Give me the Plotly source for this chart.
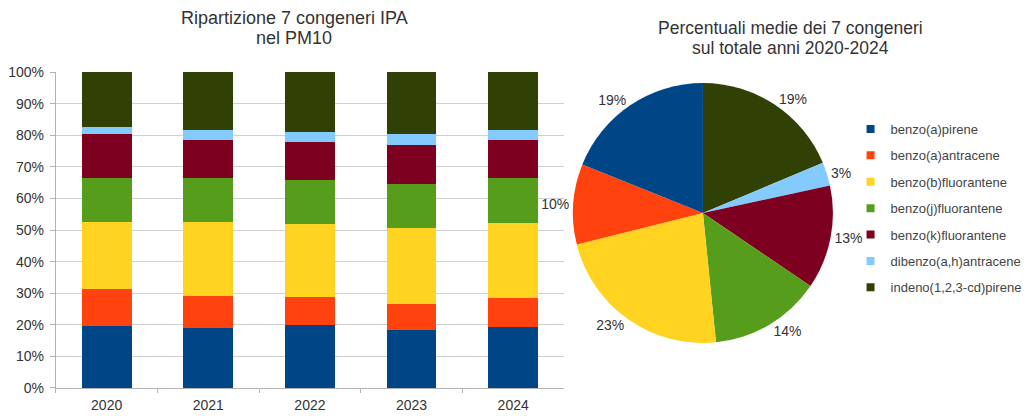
import plotly.graph_objects as go

years = ["2020", "2021", "2022", "2023", "2024"]
congeners = ["benzo(a)pirene", "benzo(a)antracene", "benzo(b)fluorantene",
             "benzo(j)fluorantene", "benzo(k)fluorantene",
             "dibenzo(a,h)antracene", "indeno(1,2,3-cd)pirene"]
colors = ["#004586", "#ff420e", "#ffd320", "#579d1c", "#7e0021", "#83caff", "#314004"]

# percentage share per year (%), per congener
benzo_a_pirene      = [19.5, 18.9, 19.8, 18.4, 19.2]
benzo_a_antracene   = [11.8, 10.3,  9.1,  8.2,  9.2]
benzo_b_fluorantene = [21.3, 23.2, 22.9, 23.9, 23.9]
benzo_j_fluorantene = [13.7, 13.9, 14.0, 13.9, 14.0]
benzo_k_fluorantene = [14.0, 12.1, 12.1, 12.4, 12.1]
dibenzo_ah_antracene = [2.3,  3.2,  3.2,  3.5,  3.2]
indeno_pirene       = [17.4, 18.4, 18.9, 19.7, 18.4]

# average share 2020-2024 (%)
pie_values = [18.9, 10.0, 22.7, 13.9, 12.9, 2.9, 18.7]

series = [benzo_a_pirene, benzo_a_antracene, benzo_b_fluorantene,
          benzo_j_fluorantene, benzo_k_fluorantene, dibenzo_ah_antracene, indeno_pirene]

FONT = "Liberation Sans, Arial, sans-serif"
TXT = "#333333"

fig = go.Figure()
for i, (name, vals) in enumerate(zip(congeners, series)):
    fig.add_trace(go.Bar(
        x=years, y=[v / 100 for v in vals], name=name,
        marker=dict(color=colors[i], line=dict(width=0)),
        showlegend=False,
        hovertemplate="%{x}: %{y:.1%}<extra>" + name + "</extra>",
    ))

# legend entries (small square keys)
for i, name in enumerate(congeners):
    fig.add_trace(go.Scatter(
        x=[None], y=[None], mode="markers", name=name,
        marker=dict(symbol="square", size=8, color=colors[i]),
        legendgroup=f"g{i}", showlegend=True,
    ))

# pie drawn clockwise from 12 o'clock in reversed order, which equals
# counterclockwise order starting with benzo(a)pirene
fig.add_trace(go.Pie(
    labels=congeners[::-1], values=pie_values[::-1], sort=False,
    direction="clockwise", rotation=0,
    marker=dict(colors=colors[::-1], line=dict(width=0)),
    textposition="outside", texttemplate="%{percent:.0%}",
    textfont=dict(size=14, color=TXT, family=FONT),
    domain=dict(x=[0.553, 0.804], y=[0.1755, 0.8005]),
    showlegend=False,
))

fig.update_layout(
    width=1036, height=416,
    margin=dict(l=0, r=0, t=0, b=0),
    paper_bgcolor="white", plot_bgcolor="white",
    barmode="stack", bargap=0.51,
    font=dict(family=FONT, color=TXT, size=13),
    xaxis=dict(domain=[0.0539, 0.5444], type="category", automargin=False,
               showline=True, linecolor="#b3b3b3", linewidth=1,
               ticks="outside", tickson="boundaries", ticklen=4, tickcolor="#b3b3b3",
               ticklabelstandoff=4,
               tickfont=dict(size=14, color=TXT), showgrid=False),
    yaxis=dict(domain=[0.0673, 0.8269], range=[0, 1], dtick=0.1, tickformat=".0%",
               automargin=False,
               showline=True, linecolor="#b3b3b3", linewidth=1,
               ticks="outside", ticklen=5, tickcolor="#b3b3b3",
               ticklabelstandoff=3,
               gridcolor="#d0d0d0", gridwidth=1, zeroline=False,
               tickfont=dict(size=14, color=TXT)),
    legend=dict(x=0.821, y=1 - 114 / 416, xanchor="left", yanchor="top",
                font=dict(size=13, color="#444444"), tracegroupgap=6.5,
                bgcolor="rgba(0,0,0,0)"),
    annotations=[
        dict(text="Ripartizione 7 congeneri IPA", x=294 / 1036, y=1 - 18 / 416,
             xref="paper", yref="paper", xanchor="center", yanchor="middle",
             showarrow=False, font=dict(size=18, color=TXT, family=FONT)),
        dict(text="nel PM10", x=294 / 1036, y=1 - 38 / 416,
             xref="paper", yref="paper", xanchor="center", yanchor="middle",
             showarrow=False, font=dict(size=18, color=TXT, family=FONT)),
        dict(text="Percentuali medie dei 7 congeneri", x=790 / 1036, y=1 - 28 / 416,
             xref="paper", yref="paper", xanchor="center", yanchor="middle",
             showarrow=False, font=dict(size=17.5, color=TXT, family=FONT)),
        dict(text="sul totale anni 2020-2024", x=790 / 1036, y=1 - 48 / 416,
             xref="paper", yref="paper", xanchor="center", yanchor="middle",
             showarrow=False, font=dict(size=17.5, color=TXT, family=FONT)),
    ],
)

fig.write_html("out.html")
